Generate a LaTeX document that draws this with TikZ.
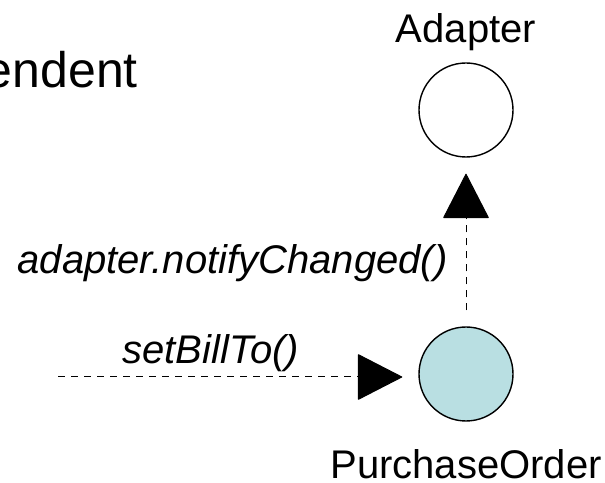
\documentclass[tikz,border=0pt]{standalone}
\usepackage{fontspec}
\setmainfont{Liberation Sans}
\usepackage{tikz}
\usetikzlibrary{arrows.meta,positioning,calc}
\definecolor{objteal}{RGB}{185,223,226}
\tikzset{
  obj/.style={draw, circle, line width=1.4pt, minimum size=94pt, inner sep=0pt, fill=white},
  objlbl/.style={inner sep=0pt, font=\fontsize{40}{48}\selectfont},
  msglbl/.style={inner sep=0pt, font=\fontsize{40}{48}\selectfont\itshape},
  msg/.style={dash pattern=on 7pt off 6pt, line width=1pt,
              -{Triangle[width=46pt, length=45pt, round]}},
}

\begin{document}
\begin{tikzpicture}[x=1pt, y=1pt]
  \useasboundingbox (0,0) rectangle (605,482);
  \node[objlbl, font=\fontsize{50}{60}\selectfont, anchor=base east] (ttl) at (138,394) {endent};
  \node[obj] (adptr) at (466,372) {};
  \node[obj, fill=objteal] (po) at (466,108) {};
  \node[objlbl, above=11pt of adptr] (adptrlbl) {Adapter};
  \node[objlbl, below=28pt of po] (polbl) {PurchaseOrder};
  \coordinate (caller) at (58,105);
  \draw[msg, shorten <=16pt, shorten >=16pt] (po) -- node[msglbl, left=18pt, pos=0.376]{adapter.notifyChanged()} (adptr);
  \draw[msg, shorten >=16pt] (caller) -- node[msglbl, above=5pt, pos=0.424]{setBillTo()} (po.west |- caller);
\end{tikzpicture}
\end{document}
